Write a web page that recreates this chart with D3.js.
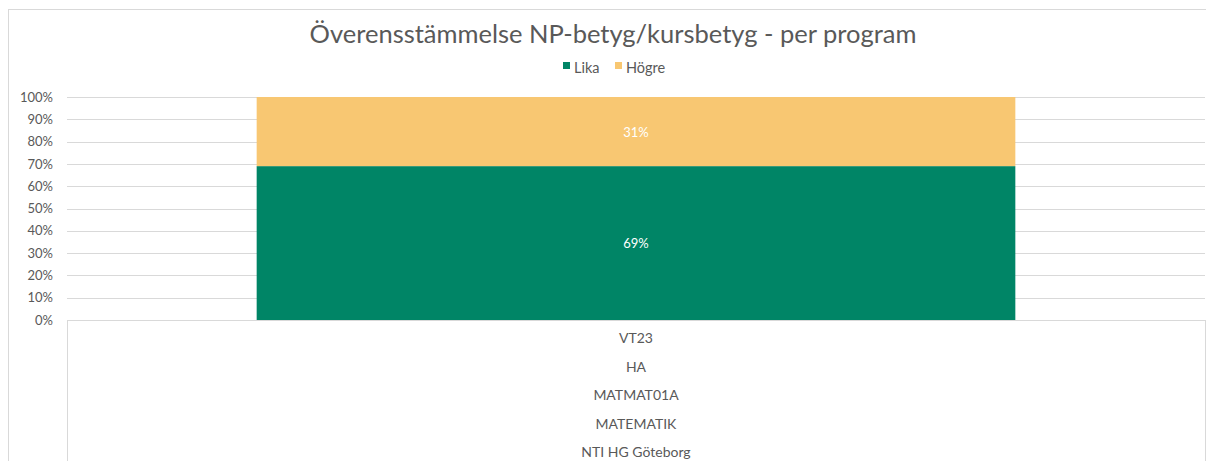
<!DOCTYPE html>
<meta charset="utf-8">
<html>
<head>
<script src="https://cdn.jsdelivr.net/npm/d3@7"></script>
<style>
body { margin:0; background:#fff; }
text { font-family:'Century Gothic','Lato','Open Sans',sans-serif; fill:#595959; }
</style>
</head>
<body>
<div id="chart"></div>
<script>

// data
var categoryLevels = ["VT23", "HA", "MATMAT01A", "MATEMATIK", "NTI HG Göteborg"];
var categories = ["VT23"];
var seriesNames = ["Lika", "Högre"];
var seriesColors = ["#008566", "#F8C772"];
var lika = [0.69];
var hogre = [0.31];
var yTicks = [0, 0.1, 0.2, 0.3, 0.4, 0.5, 0.6, 0.7, 0.8, 0.9, 1.0];

var W = 1206, H = 461;
var plot = {left: 67, right: 1205, top: 97, bottom: 320};

var svg = d3.select("#chart").append("svg")
    .attr("width", W).attr("height", H);

// outer chart border
svg.append("rect")
    .attr("x", 8.5).attr("y", 9.5)
    .attr("width", 1210).attr("height", 470)
    .attr("fill", "#fff").attr("stroke", "#d9d9d9");

// title
svg.append("text")
    .attr("x", 613).attr("y", 43)
    .attr("text-anchor", "middle")
    .style("font-size", "25.5px")
    .text("Överensstämmelse NP-betyg/kursbetyg - per program");

// scales
var x = d3.scaleBand()
    .domain(categories)
    .range([plot.left, plot.right])
    .padding(0.2);

var y = d3.scaleLinear()
    .domain([0, 1])
    .range([plot.bottom, plot.top]);

// gridlines
svg.append("g")
    .selectAll("line")
    .data(yTicks.slice(1))
    .enter().append("line")
    .attr("x1", plot.left).attr("x2", plot.right)
    .attr("y1", function(d) { return Math.round(y(d)) + 0.5; })
    .attr("y2", function(d) { return Math.round(y(d)) + 0.5; })
    .attr("stroke", "#d9d9d9");

// y axis labels
var yAxis = svg.append("g")
    .attr("transform", "translate(" + plot.left + ",0)")
    .call(d3.axisLeft(y).tickValues(yTicks).tickFormat(d3.format(".0%")).tickSize(0).tickPadding(14));
yAxis.select(".domain").remove();
yAxis.selectAll("text")
    .style("font-size", "13px")
    .style("font-family", "'Century Gothic','Lato','Open Sans',sans-serif")
    .attr("fill", "#595959");

// stacked data
var table = categories.map(function(c, i) { return {cat: c, Lika: lika[i], "Högre": hogre[i]}; });
var stacked = d3.stack().keys(seriesNames)(table);

var layers = svg.append("g").selectAll("g")
    .data(stacked)
    .enter().append("g")
    .attr("fill", function(d, i) { return seriesColors[i]; });

layers.selectAll("rect")
    .data(function(d) { return d; })
    .enter().append("rect")
    .attr("x", function(d) { return x(d.data.cat); })
    .attr("y", function(d) { return y(d[1]); })
    .attr("width", x.bandwidth())
    .attr("height", function(d) { return y(d[0]) - y(d[1]); });

// data labels
layers.selectAll("text")
    .data(function(d) { return d; })
    .enter().append("text")
    .attr("x", function(d) { return x(d.data.cat) + x.bandwidth() / 2; })
    .attr("y", function(d) { return (y(d[0]) + y(d[1])) / 2 + 5; })
    .attr("text-anchor", "middle")
    .style("font-size", "13px")
    .style("fill", "#fff")
    .text(function(d) { return d3.format(".0%")(d[1] - d[0]); });

// x axis baseline and group lines
svg.append("line")
    .attr("x1", plot.left).attr("x2", plot.right)
    .attr("y1", plot.bottom + 0.5).attr("y2", plot.bottom + 0.5)
    .attr("stroke", "#d9d9d9");
[plot.left, plot.right].forEach(function(px) {
  svg.append("line")
      .attr("x1", px + 0.5).attr("x2", px + 0.5)
      .attr("y1", plot.bottom).attr("y2", H)
      .attr("stroke", "#d9d9d9");
});

// multi-level category labels
svg.append("g").selectAll("text")
    .data(categoryLevels)
    .enter().append("text")
    .attr("x", x(categories[0]) + x.bandwidth() / 2)
    .attr("y", function(d, i) { return 343 + i * 28.5; })
    .attr("text-anchor", "middle")
    .style("font-size", "14px")
    .text(function(d) { return d; });

// legend
var legend = svg.append("g").attr("transform", "translate(563,62)");
var items = [{name: "Lika", x: 0}, {name: "Högre", x: 52}];
items.forEach(function(it, i) {
  legend.append("rect")
      .attr("x", it.x).attr("y", 0)
      .attr("width", 7).attr("height", 7)
      .attr("fill", seriesColors[i]);
  legend.append("text")
      .attr("x", it.x + 11).attr("y", 11)
      .style("font-size", "14.5px")
      .text(it.name);
});

</script>
</body>
</html>
